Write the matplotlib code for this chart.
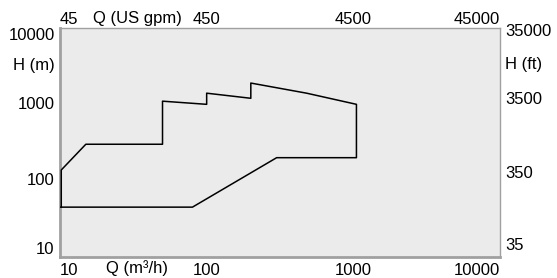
import matplotlib
matplotlib.use("Agg")
import matplotlib.pyplot as plt

plt.rcParams['font.family'] = ['Liberation Sans', 'DejaVu Sans']

# operating range envelope, Q in m3/h, H in m
q = [10.2, 10.2, 15, 50, 50, 100, 100, 200, 200, 480, 1050, 1050, 300, 80, 10.2]
h = [45, 138, 300, 300, 1100, 1000, 1400, 1200, 1900, 1400, 1000, 200, 200, 45, 45]

# axis labels
q_m3h_ticks = [10, 100, 1000, 10000]
q_m3h_labels = ['10', '100', '1000', '10000']
q_gpm_labels = ['45', '450', '4500', '45000']
h_m_ticks = [10, 100, 1000, 10000]
h_m_labels = ['10', '100', '1000', '10000']
h_ft_labels = ['35', '350', '3500', '35000']

fig = plt.figure(figsize=(5.57, 2.78), dpi=100)
W, H = 557, 278
ax = fig.add_axes([60 / W, 1 - 257 / H, 440 / W, 229 / H])
ax.set_facecolor('#ebebeb')
ax.set_xscale('log')
ax.set_yscale('log')
ax.set_xlim(10, 10000)
ax.set_ylim(10, 10000)
ax.set_xticks([])
ax.set_yticks([])
ax.minorticks_off()
for side, sp in ax.spines.items():
    sp.set_color('#a0a0a0')
    sp.set_linewidth(2 if side in ('left', 'bottom') else 1)

ax.plot(q, h, color='black', lw=1.1, zorder=5)

fs = 12
tr_x = ax.get_xaxis_transform()
tr_y = ax.get_yaxis_transform()
ha_list = ['left', 'center', 'center', 'right']
for v, lab, ha in zip(q_m3h_ticks, q_m3h_labels, ha_list):
    ax.text(v, -0.025, lab, transform=tr_x, ha=ha, va='top', fontsize=fs)
for v, lab, ha in zip(q_m3h_ticks, q_gpm_labels, ha_list):
    ax.text(v, 1.005, lab, transform=tr_x, ha=ha, va='bottom', fontsize=fs)
ax.text(137 / W, 1 - 268 / H, 'Q (m³/h)', transform=fig.transFigure,
        ha='center', va='center', fontsize=fs)
ax.text(137 / W, 1 - 19 / H, 'Q (US gpm)', transform=fig.transFigure,
        ha='center', va='center', fontsize=fs)

va_list = ['bottom', 'center', 'center', 'top']
for v, lab, va in zip(h_m_ticks, h_m_labels, va_list):
    ax.text(-0.012, v, lab, transform=tr_y, ha='right', va=va, fontsize=fs)
ax.text(-0.012, 0.835, 'H (m)', transform=ax.transAxes, ha='right', va='center', fontsize=fs)

ft_pos = [246, 173, 100, 32]
for yp, lab in zip(ft_pos, h_ft_labels):
    ax.text(505 / W, 1 - yp / H, lab, transform=fig.transFigure,
            ha='left', va='center', fontsize=fs)
ax.text(505 / W, 1 - 65 / H, 'H (ft)', transform=fig.transFigure,
        ha='left', va='center', fontsize=fs)

fig.savefig('out.png', dpi=100)
